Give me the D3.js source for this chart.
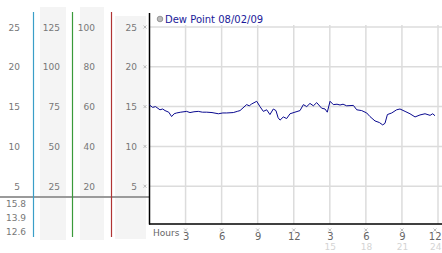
<!DOCTYPE html>
<html>
<head>
<meta charset="utf-8">
<script src="https://cdn.jsdelivr.net/npm/d3@7"></script>
<style>
  body { margin: 0; background: #fff; }
  svg { display: block; font-family: "DejaVu Sans", Verdana, sans-serif; }
</style>
</head>
<body>
<div id="container"></div>
<script>
const W = 442, H = 253;

// Dew point readings (hour of day, value)
const hours = [0, 0.26, 0.5, 0.87, 1.1, 1.29, 1.6, 1.84, 2.05, 2.26, 2.6, 3.09, 3.37, 3.7, 4.06, 4.4, 4.76, 5.2, 5.73, 6.1, 6.42, 6.97, 7.3, 7.53, 8.08, 8.3, 8.5, 8.92, 9.19, 9.47, 9.75, 10.02, 10.3, 10.52, 10.7, 10.86, 11.13, 11.41, 11.69, 12.1, 12.52, 12.8, 13.08, 13.35, 13.63, 13.91, 14.32, 14.6, 14.79, 15.02, 15.29, 15.6, 15.85, 16.1, 16.4, 16.96, 17.24, 17.65, 18.07, 18.34, 18.76, 19.12, 19.4, 19.59, 19.79, 20.15, 20.56, 20.84, 21.26, 21.67, 22.09, 22.5, 22.92, 23.34, 23.56, 23.75];
const dew   = [15.2, 14.9, 15.0, 14.6, 14.7, 14.5, 14.3, 13.75, 14.1, 14.2, 14.3, 14.4, 14.25, 14.35, 14.4, 14.3, 14.3, 14.25, 14.1, 14.2, 14.2, 14.25, 14.4, 14.5, 15.25, 15.1, 15.33, 15.67, 15.0, 14.4, 14.6, 14.0, 14.7, 14.5, 13.6, 13.3, 13.7, 13.5, 14.1, 14.3, 14.5, 15.25, 15.0, 15.4, 15.1, 15.5, 14.8, 14.7, 14.3, 15.67, 15.25, 15.3, 15.2, 15.3, 15.1, 15.15, 14.6, 14.5, 14.2, 13.75, 13.2, 13.0, 12.7, 12.9, 14.0, 14.2, 14.6, 14.7, 14.4, 14.1, 13.7, 13.95, 14.1, 13.9, 14.1, 13.85];

const gridValues = [25, 20, 15, 10, 5];
const colCelsius = [25, 20, 15, 10, 5];
const colA = [125, 100, 75, 50, 25];
const colB = [100, 80, 60, 40, 20];
const colC = [25, 20, 15, 10, 5];
const hourTicks = [3, 6, 9, 12, 15, 18, 21, 24];
const pmTicks = [15, 18, 21, 24];
const stats = ["15.8", "13.9", "12.6"];
const legendLabel = "Dew Point 08/02/09";

const x = d3.scaleLinear().domain([0, 24]).range([149.5, 438]);
const y = d3.scaleLinear().domain([0, 25]).range([226, 27]);

const svg = d3.select("#container").append("svg")
  .attr("width", W).attr("height", H);

// left side panels
svg.append("rect").attr("x", 40).attr("y", 7).attr("width", 26).attr("height", 233).attr("fill", "#f4f4f4");
svg.append("rect").attr("x", 80).attr("y", 7).attr("width", 24).attr("height", 233).attr("fill", "#f4f4f4");
svg.append("rect").attr("x", 115).attr("y", 16).attr("width", 31).attr("height", 223).attr("fill", "#f4f4f4");

// separator line under left scales
svg.append("line").attr("x1", 0).attr("x2", 149).attr("y1", 197).attr("y2", 197)
  .attr("stroke", "#9a9a9a").attr("stroke-width", 2);

// coloured scale lines
[[33.5, "#3a9ec8"], [72.5, "#3a9a3a"], [111.5, "#b03434"]].forEach(([lx, c]) => {
  svg.append("line").attr("x1", lx).attr("x2", lx).attr("y1", 12).attr("y2", 237)
    .attr("stroke", c).attr("stroke-width", 1.2);
});

// left column labels
const cols = [[20, colCelsius], [60, colA], [95, colB], [137, colC]];
cols.forEach(([cx, vals]) => {
  svg.append("g").selectAll("text")
    .data(gridValues)
    .join("text")
    .attr("x", cx)
    .attr("y", d => y(d) + 3.5)
    .attr("text-anchor", "end")
    .attr("font-size", "9px")
    .attr("fill", "#777")
    .text((d, i) => vals[i]);
});

svg.append("g").selectAll("text")
  .data(stats)
  .join("text")
  .attr("x", 6)
  .attr("y", (d, i) => 207 + i * 14)
  .attr("font-size", "9px")
  .attr("fill", "#777")
  .text(d => d);

// grid
svg.append("g").selectAll("line")
  .data(gridValues)
  .join("line")
  .attr("x1", 149).attr("x2", W)
  .attr("y1", d => y(d)).attr("y2", d => y(d))
  .attr("stroke", "#dcdcdc").attr("stroke-width", 1.5);

svg.append("g").selectAll("line")
  .data(hourTicks)
  .join("line")
  .attr("x1", d => x(d)).attr("x2", d => x(d))
  .attr("y1", 25).attr("y2", 224)
  .attr("stroke", "#dcdcdc").attr("stroke-width", 1.5);

// little tick glyphs
function mark(g, mx, my) {
  g.append("path")
    .attr("d", `M${mx - 1.5},${my - 1.5}L${mx + 1.5},${my + 1.5}M${mx + 1.5},${my - 1.5}L${mx - 1.5},${my + 1.5}`)
    .attr("stroke", "#aaa").attr("stroke-width", 0.8);
}
const marks = svg.append("g");
gridValues.forEach(v => mark(marks, 145, y(v)));
hourTicks.forEach(h => mark(marks, h === 24 ? x(h) - 3 : x(h), 230));

// axes lines
svg.append("line").attr("x1", 149.5).attr("x2", 149.5).attr("y1", 13).attr("y2", 224.5)
  .attr("stroke", "#000").attr("stroke-width", 1.5);
svg.append("line").attr("x1", 149).attr("x2", W).attr("y1", 224).attr("y2", 224)
  .attr("stroke", "#000").attr("stroke-width", 1.5);

// hour labels
const lastShift = g => g.selectAll(".tick").filter(d => d === 24)
  .select("text").attr("text-anchor", "end").attr("x", 3);

svg.append("g")
  .attr("transform", "translate(0,233)")
  .call(d3.axisBottom(x).tickValues(hourTicks).tickSize(0).tickPadding(0)
    .tickFormat(d => d % 12 === 0 ? 12 : d % 12))
  .call(g => g.select(".domain").remove())
  .call(g => g.selectAll("text").attr("font-size", "10px").attr("fill", "#666")
    .attr("font-family", "DejaVu Sans, sans-serif"))
  .call(lastShift);

svg.append("g")
  .attr("transform", "translate(0,243.5)")
  .call(d3.axisBottom(x).tickValues(pmTicks).tickSize(0).tickPadding(0))
  .call(g => g.select(".domain").remove())
  .call(g => g.selectAll("text").attr("font-size", "9px").attr("fill", "#d4d4d4")
    .attr("font-family", "DejaVu Sans, sans-serif"))
  .call(lastShift);

svg.append("text").attr("x", 153).attr("y", 236)
  .attr("font-size", "9px").attr("fill", "#666").text("Hours");

// legend
svg.append("circle").attr("cx", 160).attr("cy", 19).attr("r", 2.8)
  .attr("fill", "#bbb").attr("stroke", "#888").attr("stroke-width", 0.8);
svg.append("text").attr("x", 165).attr("y", 22.5)
  .attr("font-size", "10px").attr("fill", "#1a1a99").text(legendLabel);

// dew point line
const line = d3.line().x((d, i) => x(hours[i])).y(d => y(d));
svg.append("path")
  .datum(dew)
  .attr("fill", "none")
  .attr("stroke", "#0a0a90")
  .attr("stroke-width", 1)
  .attr("d", line);
</script>
</body>
</html>
